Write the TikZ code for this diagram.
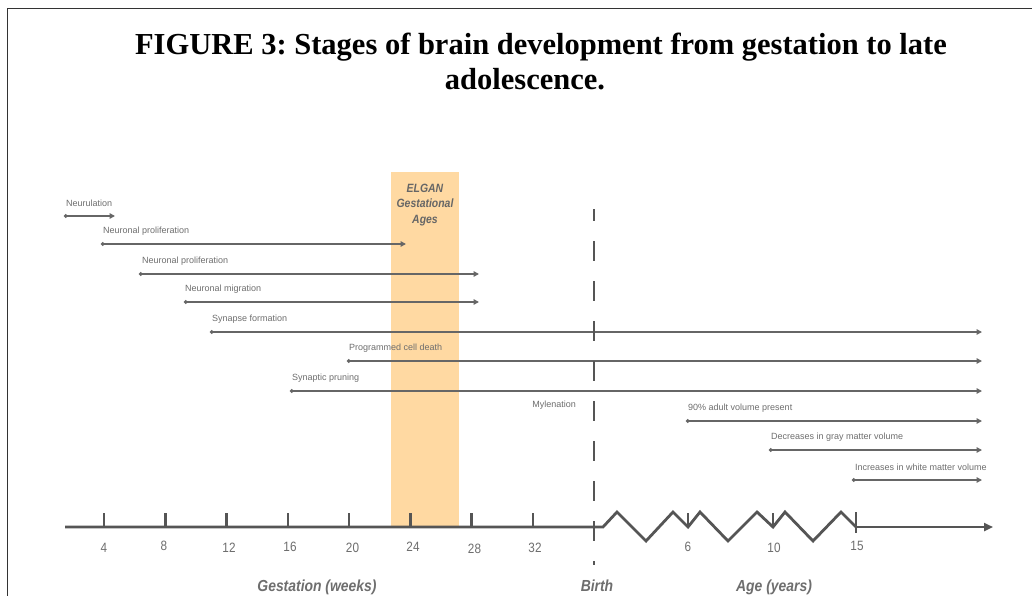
\documentclass[tikz,border=0pt]{standalone}
\usepackage{fontspec}
\setmainfont{Liberation Serif}
\newfontfamily\labfont{Liberation Sans}
\newfontfamily\condfont[FakeStretch=0.87]{Liberation Sans}
\usetikzlibrary{arrows.meta}
\definecolor{linegray}{HTML}{666666}
\definecolor{textgray}{HTML}{6E6E6E}
\definecolor{axisgray}{HTML}{555555}
\definecolor{bandcol}{HTML}{FFD9A2}
\definecolor{framegray}{HTML}{333333}
\frenchspacing
\begin{document}
\begin{tikzpicture}[x=1pt,y=-1pt,
  rowline/.style={draw=linegray,line width=1.4pt,{Circle[length=3.6pt]}-{Triangle[length=5.5pt,width=5.5pt]}},
  rowlabel/.style={anchor=west,inner sep=0pt,font=\labfont\fontsize{9}{10}\selectfont,text=textgray},
  axisline/.style={draw=axisgray,line width=2.8pt,line join=miter},
  tickmark/.style={draw=axisgray,line width=2.6pt},
  ticklabel/.style={inner sep=0pt,font=\condfont\fontsize{13.5}{14}\selectfont,text=textgray},
  axistitle/.style={inner sep=0pt,anchor=base,font=\condfont\bfseries\itshape\fontsize{16}{17}\selectfont,text=textgray},
  ]
\useasboundingbox (0,0) rectangle (1032,596);
\clip (0,0) rectangle (1032,596);
\fill[white] (0,0) rectangle (1032,596);
% frame
\coordinate (fl) at (7.5,596);
\coordinate (fc) at (7.5,8.5);
\coordinate (fr) at (1032,8.5);
\draw[framegray,line width=1.6pt] (fl) -- (fc) -- (fr);
% title
\node[anchor=base,inner sep=0pt,font=\bfseries\fontsize{30.5}{34}\selectfont] (title1) at (541,55) {FIGURE 3: Stages of brain development from gestation to late};
\node[anchor=base,inner sep=0pt,font=\bfseries\fontsize{30.5}{34}\selectfont] (title2) at (525,90) {adolescence.};
% ELGAN band
\fill[bandcol] (391,172) rectangle (459,527);
\node[inner sep=0pt,align=center,font=\condfont\bfseries\itshape\fontsize{12}{15.5}\selectfont,text=linegray] (elgan) at (425,205) {ELGAN\\Gestational\\Ages};
% rows
\foreach \n/\sx/\ex/\ly/\lx/\txt in {
  1/64/115/216/66/Neurulation,
  2/101/406/244/103/Neuronal proliferation,
  3/139/479/274/142/Neuronal proliferation,
  4/184/479/302/185/Neuronal migration,
  5/210/982/332/212/Synapse formation,
  6/347/982/361/349/Programmed cell death,
  7/290/982/391/292/Synaptic pruning,
  9/686/982/421/688/90\% adult volume present,
  10/769/982/450/771/Decreases in gray matter volume,
  11/852/982/480/855/Increases in white matter volume}{
  \coordinate (s\n) at (\sx,\ly);
  \coordinate (e\n) at (\ex,\ly);
  \node[rowlabel] (l\n) at (\lx,\ly-13) {\txt};
  \draw[rowline] (s\n) -- (e\n);
}
\node[rowlabel,anchor=east] (l8) at (576,405) {Mylenation};
% axis
\coordinate (ax0) at (65,527);
\coordinate (birth) at (594,527);
\coordinate (z0) at (603,527);
\coordinate (z1) at (617,512);
\coordinate (z2) at (646,541);
\coordinate (z3) at (673,512);
\coordinate (z4) at (688,527);
\coordinate (z5) at (700,512);
\coordinate (z6) at (728,541);
\coordinate (z7) at (757,512);
\coordinate (z8) at (773,527);
\coordinate (z9) at (785,512);
\coordinate (z10) at (813,541);
\coordinate (z11) at (841,512);
\coordinate (z12) at (856,527);
\coordinate (axend) at (993,527);
\draw[axisline] (ax0) -- (birth) -- (z0) -- (z1) -- (z2) -- (z3) -- (z4) -- (z5) -- (z6) -- (z7) -- (z8) -- (z9) -- (z10) -- (z11) -- (z12);
\draw[axisline,-{Triangle[length=9pt,width=8pt]}] (z12) -- (axend);
% gestation ticks
\foreach \n/\tx/\lx/\ly in {4/104/104/548,8/165.2/164/546,12/226.5/229/548,16/287.8/290/546.5,20/349/352.5/547.5,24/410.3/413/546.5,28/471.5/474.5/549,32/533/535/547.5}{
  \coordinate (t\n) at (\tx,527);
  \coordinate (tt\n) at (\tx,513);
  \draw[tickmark] (t\n) -- (tt\n);
  \node[ticklabel] (lb\n) at (\lx,\ly) {\n};
}
% age ticks
\coordinate (ttA) at (688,513);
\coordinate (ttB) at (773,513);
\coordinate (ttC) at (856,512);
\coordinate (tbC) at (856,533);
\draw[tickmark] (z4) -- (ttA);
\draw[tickmark] (z8) -- (ttB);
\draw[tickmark] (ttC) -- (tbC);
\node[ticklabel] (lbA) at (688,546.5) {6};
\node[ticklabel] (lbB) at (774,547.5) {10};
\node[ticklabel] (lbC) at (857,545.5) {15};
% birth dashed line
\coordinate (btop) at (594,209);
\coordinate (bbot) at (594,565);
\draw[draw=axisgray,line width=2.4pt,dash pattern=on 20pt off 20pt,dash phase=8pt] (btop) -- (bbot);
% axis titles
\node[axistitle] (gest) at (317,591) {Gestation (weeks)};
\node[axistitle] (birthlab) at (597,591) {Birth};
\node[axistitle] (age) at (774,591) {Age (years)};
\end{tikzpicture}
\end{document}
